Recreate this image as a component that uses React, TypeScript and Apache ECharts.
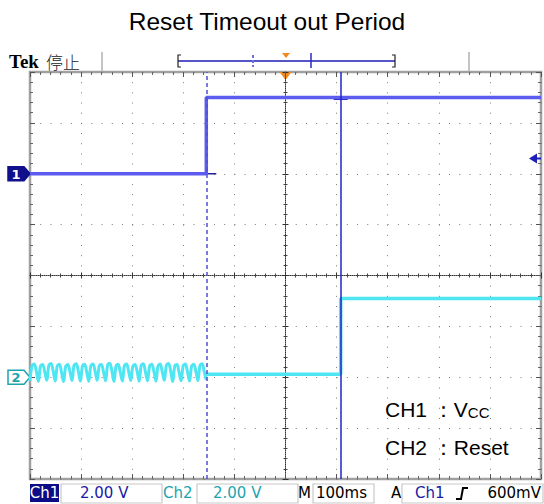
import React, { useEffect, useRef } from "react";
import * as echarts from "echarts";

// ---------- data ----------
const chartTitle = "Reset Timeout out Period";
const timeMin = -500; // ms (100 ms/div, 10 div)
const timeMax = 500;
const timePerDiv = 100;
const divMin = -4;
const divMax = 4;
const voltsPerDiv = 2; // both channels 2.00 V/div
const ch1Offset = 2; // divisions above centre
const ch2Offset = -2;

const ch1Times = [-500, -155, -155, 500];
const ch1Volts = [0, 0, 3.0, 3.0];

// CH2 ripple before VCC rises (4 samples per cycle, 21 cycles)
const ch2RippleStart = -500;
const ch2RippleEnd = -155;
const ch2Ripple = [
  -0.14, 0.46, 0.52, 0.24,
  -0.16, 0.44, 0.5, 0.22,
  -0.12, 0.48, 0.54, 0.26,
  -0.15, 0.45, 0.51, 0.2,
  -0.17, 0.43, 0.5, 0.23,
  -0.13, 0.47, 0.53, 0.25,
  -0.15, 0.44, 0.51, 0.21,
  -0.16, 0.46, 0.52, 0.24,
  -0.12, 0.45, 0.5, 0.22,
  -0.14, 0.48, 0.55, 0.26,
  -0.17, 0.44, 0.51, 0.2,
  -0.15, 0.46, 0.52, 0.23,
  -0.13, 0.43, 0.5, 0.25,
  -0.16, 0.47, 0.53, 0.21,
  -0.14, 0.45, 0.51, 0.24,
  -0.15, 0.44, 0.52, 0.22,
  -0.12, 0.48, 0.54, 0.26,
  -0.17, 0.45, 0.5, 0.2,
  -0.14, 0.46, 0.52, 0.23,
  -0.15, 0.44, 0.51, 0.25,
  -0.13, 0.47, 0.53, 0.22,
  -0.1,
];
const ch2Times = [-155, 108, 108, 500];
const ch2Volts = [0.12, 0.12, 3.1, 3.1];

const cursorA = -155;
const cursorB = 108;
const triggerTime = 0;
const triggerLevel = 0.6; // V on CH1

const statusCh1Scale = "2.00 V";
const statusCh2Scale = "2.00 V";
const statusTime = "100ms";
const statusTrigSrc = "Ch1";
const statusTrigLevel = "600mV";

// ---------- colours ----------
const C1 = "#5c5cf0";
const C2 = "#4fe6f4";
const NAVY = "#10108c";
const TEAL = "#1ca4ae";
const GRIDDOT = "#7a7a7a";

const toDiv = (v: number, off: number) => off + v / voltsPerDiv;

export default function App() {
  const ref = useRef<HTMLDivElement>(null);
  useEffect(() => {
    document.body.style.margin = "0";
    const chart = echarts.init(ref.current!, null, { renderer: "svg" });

    const rippleStep = (ch2RippleEnd - ch2RippleStart) / (ch2Ripple.length - 1);
    const rippleData = ch2Ripple.map((v, i) => [ch2RippleStart + i * rippleStep, toDiv(v, ch2Offset)]);
    const ch2Data = ch2Times.map((t, i) => [t, toDiv(ch2Volts[i], ch2Offset)]);
    const ch1Data = ch1Times.map((t, i) => [t, toDiv(ch1Volts[i], ch1Offset)]);

    const baseX = {
      type: "value",
      min: timeMin,
      max: timeMax,
      interval: timePerDiv,
      axisLabel: { show: false },
      splitLine: { show: false },
    };
    const baseY = {
      type: "value",
      min: divMin,
      max: divMax,
      interval: 1,
      axisLabel: { show: false },
      splitLine: { show: false },
    };
    const edgeTick = { show: true, inside: true, length: 5, lineStyle: { color: "#555", width: 1 } };
    const edgeMinor = { show: true, splitNumber: 5, length: 3, lineStyle: { color: "#666", width: 1 } };
    const ctrTick = (inside: boolean) => ({ show: true, inside, length: 3, lineStyle: { color: "#333", width: 1 } });
    const ctrMinor = { show: true, splitNumber: 5, length: 2, lineStyle: { color: "#444", width: 1 } };

    const option: any = {
      animation: false,
      backgroundColor: "#ffffff",
      grid: {
        left: 30,
        top: 72,
        width: 511,
        height: 407,
        show: true,
        borderColor: "#a0a0a0",
        borderWidth: 2.5,
        backgroundColor: "#ffffff",
      },
      xAxis: [
        {
          ...baseX,
          position: "bottom",
          axisLine: { show: false, onZero: false },
          axisTick: edgeTick,
          minorTick: edgeMinor,
          splitLine: { show: true, lineStyle: { color: GRIDDOT, width: 1, type: [1, 9.175] } },
        },
        {
          ...baseX,
          position: "bottom",
          axisLine: { show: true, onZero: true, onZeroAxisIndex: 0, lineStyle: { color: "#333", width: 1, type: [1, 1] } },
          axisTick: ctrTick(false),
          minorTick: ctrMinor,
        },
        {
          ...baseX,
          position: "bottom",
          axisLine: { show: false, onZero: true, onZeroAxisIndex: 0 },
          axisTick: ctrTick(true),
          minorTick: ctrMinor,
        },
        {
          ...baseX,
          position: "top",
          axisLine: { show: false, onZero: false },
          axisTick: edgeTick,
          minorTick: edgeMinor,
        },
      ],
      yAxis: [
        {
          ...baseY,
          position: "left",
          axisLine: { show: false, onZero: false },
          axisTick: edgeTick,
          minorTick: edgeMinor,
          splitLine: { show: true, lineStyle: { color: GRIDDOT, width: 1, type: [1, 9.22] } },
        },
        {
          ...baseY,
          position: "right",
          axisLine: { show: false, onZero: false },
          axisTick: edgeTick,
          minorTick: edgeMinor,
        },
        {
          ...baseY,
          position: "left",
          axisLine: { show: true, onZero: true, onZeroAxisIndex: 0, lineStyle: { color: "#333", width: 1, type: [1, 1] } },
          axisTick: ctrTick(false),
          minorTick: ctrMinor,
        },
        {
          ...baseY,
          position: "left",
          axisLine: { show: false, onZero: true, onZeroAxisIndex: 0 },
          axisTick: ctrTick(true),
          minorTick: ctrMinor,
        },
      ],
      series: [
        {
          type: "line",
          name: "CH2 ripple",
          xAxisIndex: 0,
          yAxisIndex: 0,
          data: rippleData,
          showSymbol: false,
          smooth: 0.35,
          lineStyle: { color: C2, width: 3 },
          silent: true,
        },
        {
          type: "line",
          name: "CH2",
          xAxisIndex: 0,
          yAxisIndex: 0,
          data: ch2Data,
          showSymbol: false,
          lineStyle: { color: C2, width: 3.5 },
          silent: true,
        },
        {
          type: "line",
          name: "CH1",
          xAxisIndex: 0,
          yAxisIndex: 0,
          data: ch1Data,
          showSymbol: false,
          lineStyle: { color: C1, width: 3.5 },
          silent: true,
        },
        {
          type: "line",
          name: "cursors",
          xAxisIndex: 0,
          yAxisIndex: 0,
          data: [],
          silent: true,
          markLine: {
            silent: true,
            symbol: "none",
            label: { show: false },
            data: [
              { xAxis: cursorA, lineStyle: { color: "#5050d2", width: 1.5, type: [4, 3] } },
              { xAxis: cursorB, lineStyle: { color: "#2323c4", width: 1.5, type: "solid" } },
            ],
          },
        },
      ],
    };
    chart.setOption(option);

    const px = (t: number, d: number) => chart.convertToPixel({ xAxisIndex: 0, yAxisIndex: 0 }, [t, d]) as number[];
    const y1 = px(timeMin, ch1Offset)[1];
    const y2 = px(timeMin, ch2Offset)[1];
    const trigX = px(triggerTime, 0)[0];
    const topY = px(0, divMax)[1];
    const rightX = px(timeMax, 0)[0];
    const leftX = px(timeMin, 0)[0];
    const yLvl = px(0, toDiv(triggerLevel, ch1Offset))[1];
    const ch1High = px(cursorB, toDiv(ch1Volts[2], ch1Offset));
    const xA = px(cursorA, 0)[0];

    const marker = (y: number, fill: string, stroke: string, label: string, txt: string) => ({
      type: "group",
      children: [
        {
          type: "polygon",
          shape: { points: [[leftX - 22, y - 7], [leftX - 6, y - 7], [leftX, y], [leftX - 6, y + 7], [leftX - 22, y + 7]] },
          style: { fill, stroke, lineWidth: 1.5 },
        },
        {
          type: "text",
          x: leftX - 14,
          y: y + 0.5,
          style: { text: label, fill: txt, font: "bold 13px 'DejaVu Sans'", align: "center", verticalAlign: "middle" },
        },
      ],
    });

    const statFont = "15px 'DejaVu Sans'";
    const sy = 493;
    const boxes = [
      [61, 162],
      [197, 298],
      [313, 374],
      [402, 543],
    ];

    const graphic: any[] = [
      {
        type: "text",
        x: 267,
        y: 21,
        style: { text: chartTitle, fill: "#000", font: "24.5px 'Liberation Sans'", align: "center", verticalAlign: "middle" },
      },
      {
        type: "text",
        x: 9,
        y: 61,
        style: { text: "Tek", fill: "#000", font: "bold 19px 'Liberation Serif'", verticalAlign: "middle" },
      },
      {
        type: "text",
        x: 46,
        y: 61,
        style: { text: "停止", fill: "#222", font: "300 17px 'Noto Sans CJK SC'", verticalAlign: "middle" },
      },
      { type: "line", shape: { x1: 102, y1: 52, x2: 102, y2: 71 }, style: { stroke: "#c4c4c4", lineWidth: 2 } },
      { type: "line", shape: { x1: 469, y1: 52, x2: 469, y2: 71 }, style: { stroke: "#c4c4c4", lineWidth: 2 } },
      // record bar
      { type: "line", shape: { x1: 178, y1: 61, x2: 395, y2: 61 }, style: { stroke: "#1c1cb4", lineWidth: 1.5 } },
      { type: "polyline", shape: { points: [[181, 55], [178, 55], [178, 67], [181, 67]] }, style: { stroke: "#222", lineWidth: 1.2, fill: null } },
      { type: "polyline", shape: { points: [[392, 55], [395, 55], [395, 67], [392, 67]] }, style: { stroke: "#222", lineWidth: 1.2, fill: null } },
      { type: "line", shape: { x1: 253, y1: 55, x2: 253, y2: 67 }, style: { stroke: "#6e6ee0", lineWidth: 2, lineDash: [3, 2] } },
      { type: "line", shape: { x1: 311, y1: 53, x2: 311, y2: 68 }, style: { stroke: "#2a2ac0", lineWidth: 1.5 } },
      { type: "polygon", shape: { points: [[282, 53], [290, 53], [286, 58]] }, style: { fill: "#f28a22" } },
      // trigger position marker
      { type: "polygon", shape: { points: [[trigX - 6, topY], [trigX + 6, topY], [trigX, topY + 8]] }, style: { fill: "#f28a22" } },
      // small readout tick on CH1 at cursor B
      { type: "line", shape: { x1: ch1High[0] - 7, y1: ch1High[1] + 2, x2: ch1High[0] + 7, y2: ch1High[1] + 2 }, style: { stroke: "#2323c4", lineWidth: 1.2 } },
      { type: "line", shape: { x1: xA, y1: y1, x2: xA + 10, y2: y1 }, style: { stroke: "#22229c", lineWidth: 1.5 } },
      // channel ground markers
      marker(y1, NAVY, NAVY, "1", "#ffffff"),
      marker(y2, "#ffffff", TEAL, "2", TEAL),
      // trigger level arrow
      { type: "polygon", shape: { points: [[rightX - 12, yLvl], [rightX - 4, yLvl - 5], [rightX - 4, yLvl + 5]] }, style: { fill: "#1e1eb8" } },
      { type: "line", shape: { x1: rightX - 5, y1: yLvl, x2: rightX, y2: yLvl }, style: { stroke: "#1e1eb8", lineWidth: 2 } },
      // annotations
      {
        type: "text",
        x: 385,
        y: 408,
        style: {
          text: "{a|CH1 ：V}{b|CC}",
          verticalAlign: "middle",
          rich: {
            a: { fontSize: 21, fontFamily: "Liberation Sans", fill: "#000", verticalAlign: "bottom", lineHeight: 23 },
            b: { fontSize: 15, fontFamily: "Liberation Sans", fill: "#000", verticalAlign: "bottom", lineHeight: 14 },
          },
        },
      },
      {
        type: "text",
        x: 385,
        y: 447,
        style: { text: "CH2 ：Reset", fill: "#000", font: "21px 'Liberation Sans'", verticalAlign: "middle" },
      },
      // status bar
      { type: "rect", shape: { x: 30, y: 484, width: 29, height: 18 }, style: { fill: "#0c0c86" } },
      { type: "text", x: 44.5, y: sy, style: { text: "Ch1", fill: "#fff", font: statFont, align: "center", verticalAlign: "middle" } },
      ...boxes.map(([a, b]) => ({
        type: "rect",
        shape: { x: a, y: 484, width: b - a, height: 19 },
        style: { fill: null, stroke: "#c8c8c8", lineWidth: 1.2 },
      })),
      { type: "text", x: 80, y: sy, style: { text: statusCh1Scale, fill: "#1a1aa6", font: statFont, verticalAlign: "middle" } },
      { type: "text", x: 163, y: sy, style: { text: "Ch2", fill: TEAL, font: statFont, verticalAlign: "middle" } },
      { type: "text", x: 213, y: sy, style: { text: statusCh2Scale, fill: TEAL, font: statFont, verticalAlign: "middle" } },
      { type: "text", x: 298, y: sy, style: { text: "M", fill: "#000", font: statFont, verticalAlign: "middle" } },
      { type: "text", x: 341.5, y: sy, style: { text: statusTime, fill: "#000", font: statFont, align: "center", verticalAlign: "middle" } },
      { type: "text", x: 391, y: sy, style: { text: "A", fill: "#000", font: statFont, verticalAlign: "middle" } },
      { type: "text", x: 415, y: sy, style: { text: statusTrigSrc, fill: "#1a1aa6", font: statFont, verticalAlign: "middle" } },
      { type: "polyline", shape: { points: [[456, 499], [461, 499], [463, 488], [468, 488]] }, style: { stroke: "#000", lineWidth: 2, fill: null } },
      { type: "text", x: 541, y: sy, style: { text: statusTrigLevel, fill: "#000", font: statFont, align: "right", verticalAlign: "middle" } },
    ];
    chart.setOption({ graphic });

    return () => chart.dispose();
  }, []);
  return <div ref={ref} style={{ width: 544, height: 504 }} />;
}
